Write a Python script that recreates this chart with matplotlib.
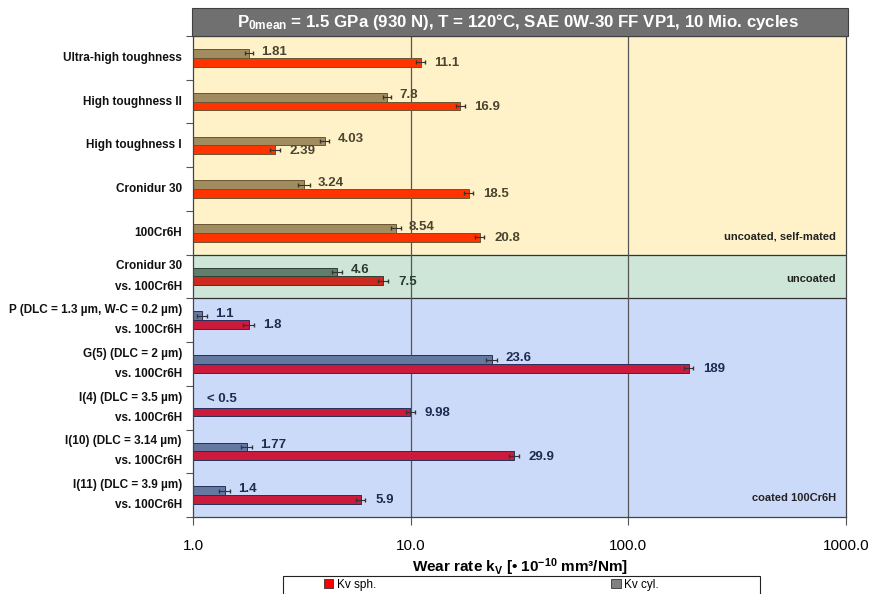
import numpy as np
import matplotlib
matplotlib.use("Agg")
import matplotlib.pyplot as plt
from matplotlib.patches import Rectangle, Patch

plt.rcParams['font.family'] = ['Liberation Sans', 'DejaVu Sans']
plt.rcParams['mathtext.fontset'] = 'custom'
plt.rcParams['mathtext.rm'] = 'Liberation Sans:bold'
plt.rcParams['mathtext.it'] = 'Liberation Sans:bold'
plt.rcParams['mathtext.bf'] = 'Liberation Sans:bold'
plt.rcParams['mathtext.default'] = 'regular'

# data
categories = ["Ultra-high toughness", "High toughness II", "High toughness I", "Cronidur 30", "100Cr6H",
              "Cronidur 30\nvs. 100Cr6H",
              "P (DLC = 1.3 µm, W-C = 0.2 µm)\nvs. 100Cr6H", "G(5) (DLC = 2 µm)\nvs. 100Cr6H",
              "I(4) (DLC = 3.5 µm)\nvs. 100Cr6H", "I(10) (DLC = 3.14 µm)\nvs. 100Cr6H",
              "I(11) (DLC = 3.9 µm)\nvs. 100Cr6H"]
group = [0, 0, 0, 0, 0, 1, 2, 2, 2, 2, 2]
kv_sph = [11.1, 16.9, 2.39, 18.5, 20.8, 7.5, 1.8, 189, 9.98, 29.9, 5.9]
kv_sph_err = [0.5, 0.8, 0.12, 0.9, 1.0, 0.4, 0.1, 9, 0.5, 1.5, 0.3]
kv_sph_lbl = ["11.1", "16.9", "2.39", "18.5", "20.8", "7.5", "1.8", "189", "9.98", "29.9", "5.9"]
kv_cyl = [1.81, 7.8, 4.03, 3.24, 8.54, 4.6, 1.1, 23.6, np.nan, 1.77, 1.4]
kv_cyl_err = [0.08, 0.35, 0.2, 0.2, 0.45, 0.25, 0.06, 1.3, 0, 0.1, 0.08]
kv_cyl_lbl = ["1.81", "7.8", "4.03", "3.24", "8.54", "4.6", "1.1", "23.6", "< 0.5", "1.77", "1.4"]
group_names = ["uncoated, self-mated", "uncoated", "coated 100Cr6H"]

# styles per group
bg = ["#FFF2C8", "#CDE6D8", "#CCDAFA"]
sph_col = ["#FF3300", "#CC2A1E", "#CC1A3C"]
cyl_col = ["#A08C5F", "#5F7F6A", "#6478A0"]
edge_col = ["#6a5530", "#2f3f35", "#27305a"]
txt_col = ["#4a4430", "#2b3a30", "#1F2A50"]

fig = plt.figure(figsize=(8.78, 5.94), dpi=100)
ax = fig.add_axes([193/878, 1-517/594, (846-193)/878, (517-36)/594])
ax.set_xscale('log')
ax.set_xlim(1, 1000)
ax.set_ylim(len(categories)-0.5, -0.5)

y = np.arange(len(categories))
g = np.array(group)
# backgrounds
for k in range(3):
    rows = y[g == k]
    ax.axhspan(rows.min()-0.5, rows.max()+0.5, color=bg[k], zorder=0)
for b in [4.5, 5.5]:
    ax.axhline(b, color="#333333", lw=0.9, zorder=1)
for xv in [10, 100]:
    ax.axvline(xv, color="#555555", lw=0.9, zorder=1)

h = 0.2
for i in range(len(categories)):
    k = group[i]
    # cyl
    if not np.isnan(kv_cyl[i]):
        ax.barh(y[i]-0.1, kv_cyl[i], left=0, height=h, color=cyl_col[k], edgecolor=edge_col[k], lw=0.7, zorder=2)
        ax.errorbar(kv_cyl[i], y[i]-0.1, xerr=kv_cyl_err[i], fmt='none', ecolor="#333333", elinewidth=0.8,
                    capsize=1.5, zorder=3)
        ax.annotate(kv_cyl_lbl[i], (kv_cyl[i]+kv_cyl_err[i], y[i]-0.14), xytext=(6, 0), textcoords='offset points',
                    va='center', ha='left', fontsize=9.5, fontweight='bold', color=txt_col[k])
    else:
        ax.annotate(kv_cyl_lbl[i], (1.0, y[i]-0.2), xytext=(10, 0), textcoords='offset points',
                    va='center', ha='left', fontsize=9.5, fontweight='bold', color=txt_col[k])
    # sph
    ax.barh(y[i]+0.1, kv_sph[i], left=0, height=h, color=sph_col[k], edgecolor=edge_col[k], lw=0.7, zorder=2)
    ax.errorbar(kv_sph[i], y[i]+0.1, xerr=kv_sph_err[i], fmt='none', ecolor="#333333", elinewidth=0.8,
                capsize=1.5, zorder=3)
    ax.annotate(kv_sph_lbl[i], (kv_sph[i]+kv_sph_err[i], y[i]+0.12), xytext=(7, 0), textcoords='offset points',
                va='center', ha='left', fontsize=9.5, fontweight='bold', color=txt_col[k])

# group names on the right
for k, yy in zip(range(3), [4.08, 5.06, 10.07]):
    ax.text(0.985, yy, group_names[k], transform=ax.get_yaxis_transform(), ha='right', va='center',
            fontsize=8, fontweight='bold', color="#222222")

# axes ticks
ax.set_yticks(np.arange(-0.5, len(categories)+0.5, 1))
ax.set_yticklabels([])
ax.tick_params(axis='y', direction='out', length=5, color="#555555")
for i, c in enumerate(categories):
    ax.text(-0.017, y[i], c, transform=ax.get_yaxis_transform(), ha='right', va='center',
            fontsize=8.5, fontweight='bold', color="#111111", linespacing=1.9)
ax.set_xticks([1, 10, 100, 1000])
ax.set_xticklabels(["1.0", "10.0", "100.0", "1000.0"], fontsize=11)
ax.minorticks_off()
ax.tick_params(axis='x', direction='out', length=6, color="#555555", pad=10)
ax.set_xlabel("Wear rate k$_V$ [• 10$^{-10}$ mm³/Nm]", fontsize=11, fontweight='bold', labelpad=2)
for s in ax.spines.values():
    s.set_color("#444444")
    s.set_linewidth(0.9)

# title bar
fig.patches.append(Rectangle((192/878, 1-36/594), (848-192)/878, 28/594, transform=fig.transFigure,
                             facecolor="#707070", edgecolor="#404040", lw=0.8))
fig.text(518/878, 1-22/594, "P$_{0mean}$ = 1.5 GPa (930 N), T = 120°C, SAE 0W-30 FF VP1, 10 Mio. cycles",
         ha='center', va='center', color='white', fontsize=12.2, fontweight='bold')

# legend
fig.patches.append(Rectangle((283/878, -0.01), (760-283)/878, (594-576)/594 + 0.01, transform=fig.transFigure,
                             facecolor="white", edgecolor="#222222", lw=0.8))
handles = [Patch(facecolor="#FF0000", edgecolor="#333333", lw=0.6),
           Patch(facecolor="#808080", edgecolor="#333333", lw=0.6)]
fig.legend(handles, ["Kv sph.", "Kv cyl."], loc='center left', bbox_to_anchor=(318/878, 1-585/594),
           ncol=2, frameon=False, fontsize=8.5, handlelength=0.8, handleheight=0.8, handletextpad=0.3,
           columnspacing=19.9, borderpad=0)

fig.savefig("out.png", dpi=100)
